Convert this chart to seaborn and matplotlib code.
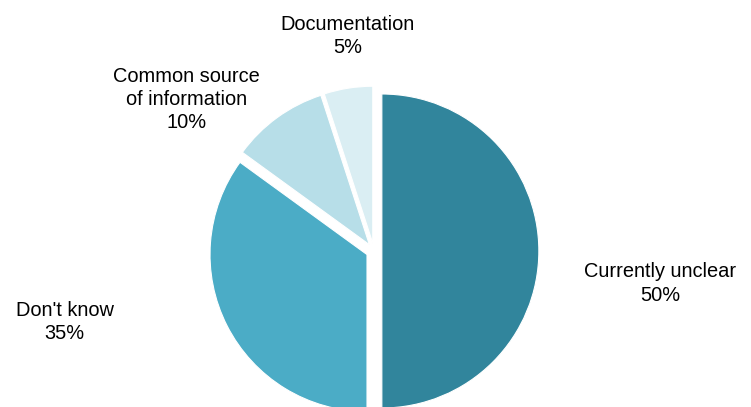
import matplotlib
matplotlib.use("Agg")
import matplotlib.pyplot as plt
import seaborn as sns

# Survey answers and their shares (percent)
categories = ["Currently unclear", "Don't know", "Common source\nof information", "Documentation"]
shares = [50, 35, 10, 5]
colors = ["#31859C", "#4BACC6", "#B7DEE8", "#DAEEF3"]

sns.set_theme(style="white")
plt.rcParams["font.family"] = ["Liberation Sans", "DejaVu Sans"]

fig = plt.figure(figsize=(7.51, 4.07), dpi=100)
ax = fig.add_axes([0, 0, 1, 1])

palette = sns.color_palette(colors)
wedges, _ = ax.pie(
    shares,
    colors=palette,
    startangle=90,
    counterclock=False,
    explode=[0.05] * len(shares),
    radius=1.0,
    wedgeprops=dict(edgecolor="white", linewidth=0.8),
)

# Label anchor points (data units, pie centre at origin)
label_pos = [(1.825, -0.207), (-1.97, -0.452), (-1.195, 0.965), (-0.17, 1.37)]
for name, val, (lx, ly) in zip(categories, shares, label_pos):
    ax.text(lx, ly, f"{name}\n{val}%", ha="center", va="center",
            fontsize=14.4, color="black", linespacing=1.28)

# 157 px per data unit, centre at pixel (374, 251) from top-left
scale = 157.0
ax.set_xlim(-374 / scale, (751 - 374) / scale)
ax.set_ylim(-(407 - 251) / scale, 251 / scale)
ax.set_aspect("auto")
ax.axis("off")

fig.savefig("out.png", dpi=100, facecolor="white")
